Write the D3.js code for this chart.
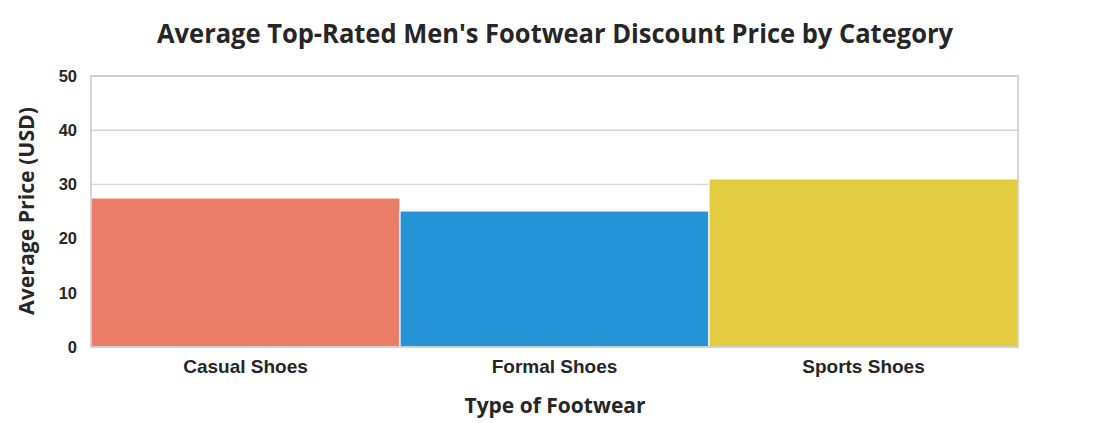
<!DOCTYPE html>
<html><head><meta charset="utf-8">
<script src="https://cdn.jsdelivr.net/npm/d3@7"></script>
<style>body{margin:0;background:#fff}</style>
</head><body>
<svg id="c" width="1095" height="423"></svg>
<script>
const categories = ["Casual Shoes", "Formal Shoes", "Sports Shoes"];
const values = [27.5, 25.1, 31.0];
const colors = ["#EC7E69", "#2494D6", "#E2CB3E"];
const yTicks = [0, 10, 20, 30, 40, 50];

const svg = d3.select("#c");
const m = {l: 91, r: 1018, t: 76, b: 347};
const x = d3.scaleBand().domain(categories).range([m.l, m.r]).padding(0);
const y = d3.scaleLinear().domain([0, 50]).range([m.b, m.t]);

// grid
svg.append("g").selectAll("line").data(yTicks).join("line")
  .attr("x1", m.l).attr("x2", m.r)
  .attr("y1", d => y(d)).attr("y2", d => y(d))
  .attr("stroke", "#d3d3d3").attr("stroke-width", 1.4);

// bars
svg.append("g").selectAll("rect").data(values).join("rect")
  .attr("x", (d, i) => x(categories[i]))
  .attr("width", x.bandwidth())
  .attr("y", d => y(d))
  .attr("height", d => y(0) - y(d))
  .attr("fill", (d, i) => colors[i])
  .attr("stroke", "#fff").attr("stroke-width", 1.2);

// frame
svg.append("rect").attr("x", m.l).attr("y", m.t)
  .attr("width", m.r - m.l).attr("height", m.b - m.t)
  .attr("fill", "none").attr("stroke", "#cccccc").attr("stroke-width", 1.6);

// y axis
const ya = svg.append("g").attr("transform", `translate(${m.l},0)`)
  .call(d3.axisLeft(y).tickValues(yTicks).tickSize(0).tickPadding(14));
ya.select(".domain").remove();
ya.selectAll("text").attr("font-family", "Liberation Sans, Arial, sans-serif")
  .attr("font-weight", "bold").attr("font-size", 16.5).attr("fill", "#262626");

// x axis
const xa = svg.append("g").attr("transform", `translate(0,${m.b})`)
  .call(d3.axisBottom(x).tickSize(0).tickPadding(13));
xa.select(".domain").remove();
xa.selectAll("text").attr("font-family", "Liberation Sans, Arial, sans-serif")
  .attr("font-weight", "bold").attr("font-size", 19).attr("fill", "#262626");

// titles
svg.append("text").attr("x", 555).attr("y", 43).attr("text-anchor", "middle")
  .attr("font-family", "Open Sans, sans-serif").attr("font-weight", "bold")
  .attr("font-size", 27).attr("fill", "#262626")
  .attr("textLength", 796).attr("lengthAdjust", "spacingAndGlyphs")
  .text("Average Top-Rated Men's Footwear Discount Price by Category");

svg.append("text").attr("x", 555).attr("y", 413).attr("text-anchor", "middle")
  .attr("font-family", "Open Sans, sans-serif").attr("font-weight", "bold")
  .attr("font-size", 21).attr("fill", "#262626")
  .attr("textLength", 181).attr("lengthAdjust", "spacingAndGlyphs")
  .text("Type of Footwear");

svg.append("text").attr("transform", "translate(34,211) rotate(-90)")
  .attr("text-anchor", "middle")
  .attr("font-family", "Open Sans, sans-serif").attr("font-weight", "bold")
  .attr("font-size", 21).attr("fill", "#262626")
  .attr("textLength", 208).attr("lengthAdjust", "spacingAndGlyphs")
  .text("Average Price (USD)");
</script>
</body></html>
